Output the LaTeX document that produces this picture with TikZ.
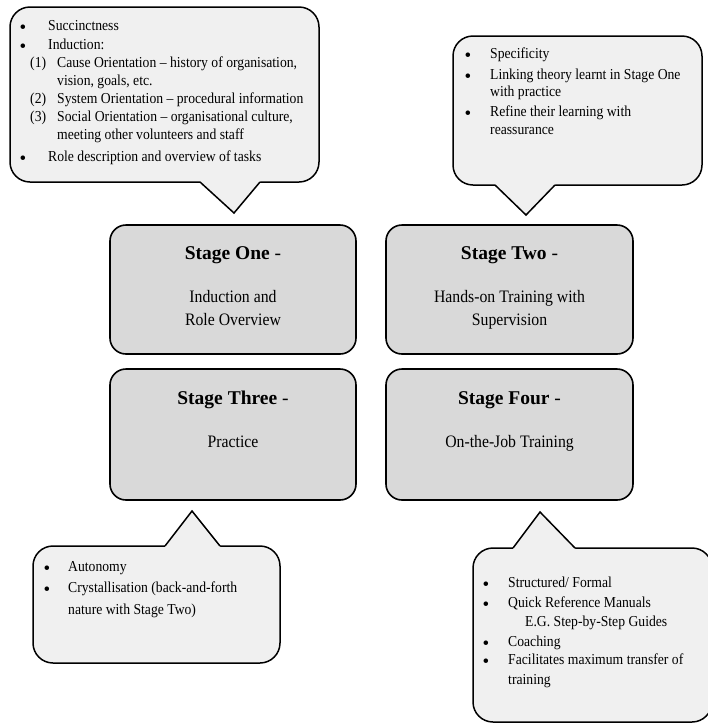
\documentclass[tikz,border=0pt]{standalone}
\usepackage{fontspec}
\setmainfont{Liberation Serif}
\newfontfamily\condfont{Liberation Serif}[FakeStretch=0.9]
\definecolor{calloutfill}{HTML}{F0F0F0}
\definecolor{stagefill}{HTML}{D9D9D9}
\tikzset{
  callout/.style={draw=black, line width=1.5pt, fill=calloutfill, rounded corners=20pt, inner sep=0pt},
  stagebox/.style={draw=black, line width=1.6pt, fill=stagefill, rounded corners=16pt, inner sep=0pt},
  ptrfill/.style={fill=calloutfill, draw=none},
  ptrline/.style={draw=black, line width=1.5pt, line join=miter},
  bt/.style={anchor=base west, inner sep=0pt, font=\condfont\fontsize{15.2}{18}\selectfont},
  bul/.style={anchor=base, inner sep=0pt, yshift=-2.5pt, font=\fontsize{19}{20}\selectfont},
  ttl/.style={anchor=base, inner sep=0pt, font=\fontsize{19.5}{22}\selectfont},
  sub/.style={anchor=base, inner sep=0pt, font=\condfont\fontsize{17.5}{20}\selectfont},
}
\begin{document}
\begin{tikzpicture}[x=1pt,y=-1pt]
\useasboundingbox (0,0) rectangle (708,724);
\clip (0,0) rectangle (708,724);

% ---- Callout 1 (top left)
\node[callout, minimum width=309pt, minimum height=175pt] (c1) at (164.5,94.5) {};
\coordinate (c1l) at (200,182); \coordinate (c1r) at (260,182); \coordinate (c1t) at (234,213);
\fill[ptrfill] (c1l) -- (c1t) -- (c1r) -- ([yshift=3pt]c1r) -- ([yshift=3pt]c1l) -- cycle;
\draw[ptrline] (c1l) -- (c1t) -- (c1r);

% ---- Callout 2 (top right)
\node[callout, minimum width=249pt, minimum height=149pt] (c2) at (577.5,110.5) {};
\coordinate (c2l) at (495,185); \coordinate (c2r) at (555,185); \coordinate (c2t) at (526,215);
\fill[ptrfill] (c2l) -- (c2t) -- (c2r) -- ([yshift=3pt]c2r) -- ([yshift=3pt]c2l) -- cycle;
\draw[ptrline] (c2l) -- (c2t) -- (c2r);

% ---- Callout 3 (bottom left)
\node[callout, minimum width=247pt, minimum height=117pt] (c3) at (156.5,604.5) {};
\coordinate (c3l) at (165,546); \coordinate (c3r) at (220,546); \coordinate (c3t) at (192,511);
\fill[ptrfill] (c3l) -- (c3t) -- (c3r) -- ([yshift=-3pt]c3r) -- ([yshift=-3pt]c3l) -- cycle;
\draw[ptrline] (c3l) -- (c3t) -- (c3r);

% ---- Callout 4 (bottom right)
\node[callout, minimum width=239pt, minimum height=174pt] (c4) at (592.5,635) {};
\coordinate (c4l) at (513,548); \coordinate (c4r) at (575,548); \coordinate (c4t) at (540,512);
\fill[ptrfill] (c4l) -- (c4t) -- (c4r) -- ([yshift=-3pt]c4r) -- ([yshift=-3pt]c4l) -- cycle;
\draw[ptrline] (c4l) -- (c4t) -- (c4r);

% ---- Stage boxes
\node[stagebox, minimum width=246pt, minimum height=129pt] (s1) at (233,289.5) {};
\node[stagebox, minimum width=247pt, minimum height=129pt] (s2) at (509.5,289.5) {};
\node[stagebox, minimum width=246pt, minimum height=131pt] (s3) at (233,434.5) {};
\node[stagebox, minimum width=247pt, minimum height=131pt] (s4) at (509.5,434.5) {};

\node[ttl] (s1t) at (233,259) {\textbf{Stage One} -};
\node[sub] (s1a) at (233,302) {Induction and};
\node[sub] (s1b) at (233,325) {Role Overview};
\node[ttl] (s2t) at (509.5,259) {\textbf{Stage Two} -};
\node[sub] (s2a) at (509.5,302) {Hands-on Training with};
\node[sub] (s2b) at (509.5,325) {Supervision};
\node[ttl] (s3t) at (233,404) {\textbf{Stage Three} -};
\node[sub] (s3a) at (233,447) {Practice};
\node[ttl] (s4t) at (509.5,404) {\textbf{Stage Four} -};
\node[sub] (s4a) at (509.5,447) {On-the-Job Training};

% ---- Callout 1 text
\node[bul] (b11) at (23,30.5) {\textbullet};
\node[bt] (t11) at (48,30.5) {Succinctness};
\node[bul] (b12) at (23,49.5) {\textbullet};
\node[bt] (t12) at (48,49.5) {Induction:};
\node[bt] (n13) at (30,67.5) {(1)};
\node[bt] (t13) at (57,67.5) {Cause Orientation – history of organisation,};
\node[bt] (t14) at (57,85) {vision, goals, etc.};
\node[bt] (n15) at (30,103.5) {(2)};
\node[bt] (t15) at (57,103.5) {System Orientation – procedural information};
\node[bt] (n16) at (30,121.5) {(3)};
\node[bt] (t16) at (57,121.5) {Social Orientation – organisational culture,};
\node[bt] (t17) at (57,139.5) {meeting other volunteers and staff};
\node[bul] (b18) at (23,161.5) {\textbullet};
\node[bt] (t18) at (48,161.5) {Role description and overview of tasks};

% ---- Callout 2 text
\node[bul] (b21) at (468,58.5) {\textbullet};
\node[bt] (t21) at (490,58.5) {Specificity};
\node[bul] (b22) at (468,79.5) {\textbullet};
\node[bt] (t22) at (490,79.5) {Linking theory learnt in Stage One};
\node[bt] (t23) at (490,96.5) {with practice};
\node[bul] (b24) at (468,116.5) {\textbullet};
\node[bt] (t24) at (490,116.5) {Refine their learning with};
\node[bt] (t25) at (490,134.5) {reassurance};

% ---- Callout 3 text
\node[bul] (b31) at (47,571.5) {\textbullet};
\node[bt] (t31) at (68,571.5) {Autonomy};
\node[bul] (b32) at (47,592.5) {\textbullet};
\node[bt] (t32) at (68,592.5) {Crystallisation (back-and-forth};
\node[bt] (t33) at (68,614.5) {nature with Stage Two)};

% ---- Callout 4 text
\node[bul] (b41) at (486,587.5) {\textbullet};
\node[bt] (t41) at (508,587.5) {Structured/ Formal};
\node[bul] (b42) at (486,607.5) {\textbullet};
\node[bt] (t42) at (508,607.5) {Quick Reference Manuals};
\node[bt] (t43) at (525,626.5) {E.G. Step-by-Step Guides};
\node[bul] (b44) at (486,646.5) {\textbullet};
\node[bt] (t44) at (508,646.5) {Coaching};
\node[bul] (b45) at (486,664.5) {\textbullet};
\node[bt] (t45) at (508,664.5) {Facilitates maximum transfer of};
\node[bt] (t46) at (508,684.5) {training};
\end{tikzpicture}
\end{document}
